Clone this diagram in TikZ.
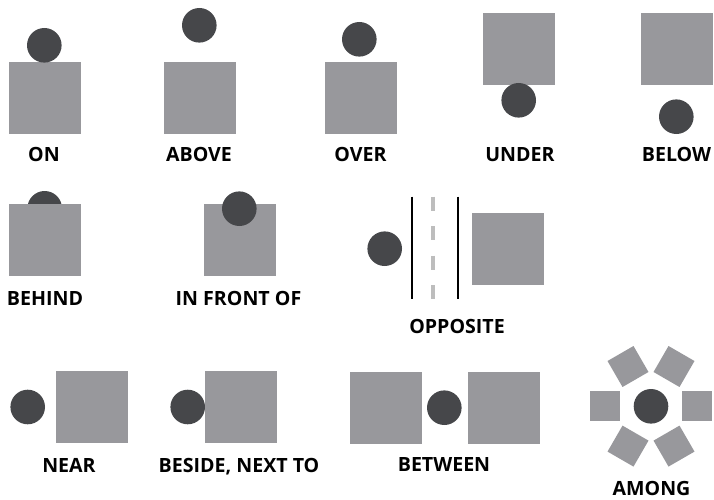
\documentclass[tikz,border=0pt]{standalone}
\usepackage{fontspec}
\setmainfont{Open Sans}
\definecolor{sqgray}{HTML}{98989C}
\definecolor{dotgray}{HTML}{46474A}
\definecolor{dashgray}{HTML}{BDBDBD}
\tikzset{
  sq/.style={fill=sqgray, draw=none, inner sep=0pt, minimum size=72pt},
  smallsq/.style={fill=sqgray, draw=none, inner sep=0pt, minimum size=30pt},
  dot/.style={circle, fill=dotgray, draw=none, inner sep=0pt, minimum size=34.6pt},
  lbl/.style={font=\fontsize{19.6}{22}\selectfont\bfseries, text=black, anchor=base, inner sep=0pt},
  roadline/.style={line width=2pt, black},
  roaddash/.style={line width=4pt, dashgray, dash pattern=on 14pt off 15.5pt}
}
\begin{document}
\begin{tikzpicture}[x=1pt,y=-1pt]
\useasboundingbox[fill=white] (0,0) rectangle (714,500);
% ON
\node[sq] (on-sq) at (45,98) {};
\node[dot] (on-dot) at (44.3,45.3) {};
\node[lbl] (on-lbl) at (44,161.5) {ON};
% ABOVE
\node[sq] (ab-sq) at (200,98) {};
\node[dot] (ab-dot) at (199.3,25.3) {};
\node[lbl] (ab-lbl) at (199,161.5) {ABOVE};
% OVER
\node[sq] (ov-sq) at (361,98) {};
\node[dot] (ov-dot) at (359.3,39.3) {};
\node[lbl] (ov-lbl) at (360.5,161) {OVER};
% UNDER
\node[sq] (un-sq) at (519,49) {};
\node[dot] (un-dot) at (518.7,100.3) {};
\node[lbl] (un-lbl) at (520,161) {UNDER};
% BELOW
\node[sq] (be-sq) at (677,49) {};
\node[dot] (be-dot) at (676.3,116.7) {};
\node[lbl] (be-lbl) at (676.5,161) {BELOW};
% BEHIND
\node[dot] (bh-dot) at (44.7,208.3) {};
\node[sq] (bh-sq) at (45,240) {};
\node[lbl] (bh-lbl) at (45,305.5) {BEHIND};
% IN FRONT OF
\node[sq] (if-sq) at (240,240) {};
\node[dot] (if-dot) at (239.3,208.7) {};
\node[lbl] (if-lbl) at (238.5,305.5) {IN FRONT OF};
% OPPOSITE
\node[dot] (op-dot) at (384.7,248.7) {};
\coordinate (l1a) at (411.7,196.7); \coordinate (l1b) at (411.7,299.3);
\coordinate (l2a) at (433,196.7);   \coordinate (l2b) at (433,299.3);
\coordinate (l3a) at (458,196.7);   \coordinate (l3b) at (458,299.3);
\draw[roadline] (l1a) -- (l1b);
\draw[roaddash] (l2a) -- (l2b);
\draw[roadline] (l3a) -- (l3b);
\node[sq] (op-sq) at (508.2,249) {};
\node[lbl] (op-lbl) at (457,333.5) {OPPOSITE};
% NEAR
\node[dot] (ne-dot) at (27.7,407) {};
\node[sq] (ne-sq) at (92,407) {};
\node[lbl] (ne-lbl) at (69,472.5) {NEAR};
% BESIDE
\node[dot] (bs-dot) at (187.7,407) {};
\node[sq] (bs-sq) at (241,407) {};
\node[lbl] (bs-lbl) at (239,472.5) {BESIDE, NEXT TO};
% BETWEEN
\node[sq] (bt-sq1) at (386,408) {};
\node[dot] (bt-dot) at (444.3,407.7) {};
\node[sq] (bt-sq2) at (504,408) {};
\node[lbl] (bt-lbl) at (444,471) {BETWEEN};
% AMONG
\node[dot] (am-dot) at (651,406.3) {};
\node[smallsq] (am-e)  at (697,406.3) {};
\node[smallsq] (am-w)  at (605,406.3) {};
\node[smallsq, rotate=60] (am-ne) at (674,366.5) {};
\node[smallsq, rotate=30] (am-nw) at (628,366.5) {};
\node[smallsq, rotate=60] (am-sw) at (628,446.1) {};
\node[smallsq, rotate=30] (am-se) at (674,446.1) {};
\node[lbl] (am-lbl) at (651.5,495.5) {AMONG};
\end{tikzpicture}
\end{document}
